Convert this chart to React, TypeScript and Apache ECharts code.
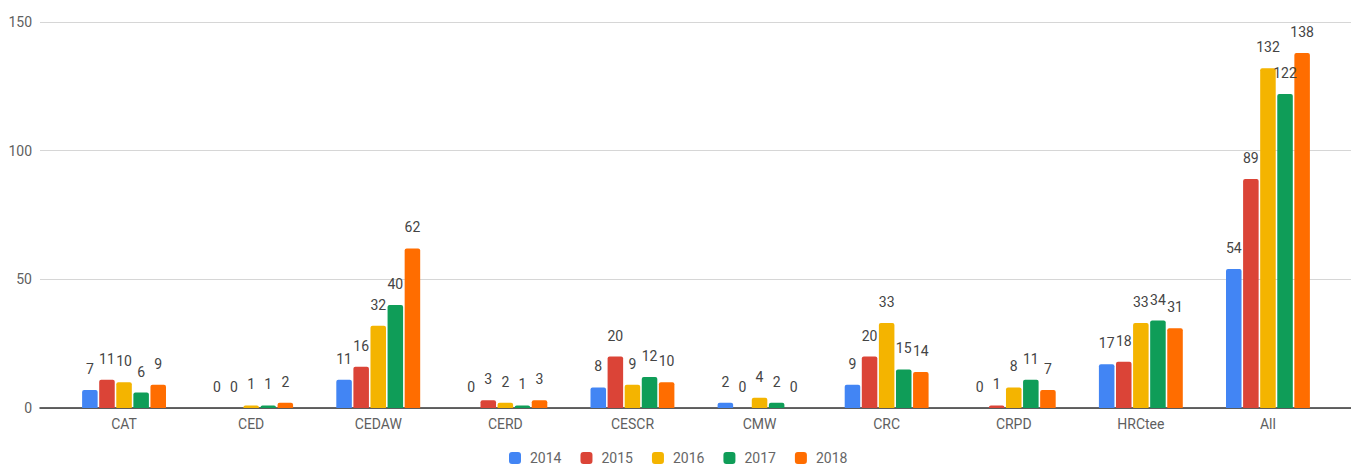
import React, { useEffect, useRef } from "react";
import * as echarts from "echarts";

const categories = ["CAT", "CED", "CEDAW", "CERD", "CESCR", "CMW", "CRC", "CRPD", "HRCtee", "All"];
const years = ["2014", "2015", "2016", "2017", "2018"];
const colors = ["#4285F4", "#DB4437", "#F4B400", "#0F9D58", "#FF6D00"];

const v2014 = [7, 0, 11, 0, 8, 2, 9, 0, 17, 54];
const v2015 = [11, 0, 16, 3, 20, 0, 20, 1, 18, 89];
const v2016 = [10, 1, 32, 2, 9, 4, 33, 8, 33, 132];
const v2017 = [6, 1, 40, 1, 12, 2, 15, 11, 34, 122];
const v2018 = [9, 2, 62, 3, 10, 0, 14, 7, 31, 138];
const seriesValues = [v2014, v2015, v2016, v2017, v2018];

const yTicks = { min: 0, max: 150, interval: 50 };

const FONT = "Roboto, 'Noto Sans', Arial, sans-serif";

export default function App() {
  const ref = useRef<HTMLDivElement>(null);

  useEffect(() => {
    if (!ref.current) return;
    const chart = echarts.init(ref.current, undefined, { renderer: "svg" });

    chart.setOption({
      animation: false,
      color: colors,
      textStyle: { fontFamily: FONT },
      legend: {
        top: 451,
        left: 509,
        padding: 0,
        itemWidth: 12,
        itemHeight: 12,
        itemGap: 19,
        icon: "roundRect",
        textStyle: { fontFamily: FONT, fontSize: 14, color: "#666", padding: [0, 0, 0, 4] },
        data: years,
      },
      grid: [
        // full-width frame carrying the value gridlines and baseline
        { left: 40, right: 0, top: 22, height: 386 },
        // inner area holding the bars
        { left: 60.5, right: 19.5, top: 22, height: 386 },
      ],
      xAxis: [
        {
          gridIndex: 0,
          type: "value",
          min: 0,
          max: 1,
          axisLine: { show: true, onZero: false, lineStyle: { color: "#333", width: 1.5 } },
          axisTick: { show: false },
          axisLabel: { show: false },
          splitLine: { show: false },
        },
        {
          gridIndex: 1,
          type: "category",
          data: categories,
          axisLine: { show: false },
          axisTick: { show: false },
          axisLabel: { margin: 9, fontSize: 14, color: "#5f5f5f", fontFamily: FONT },
        },
      ],
      yAxis: [
        {
          gridIndex: 0,
          type: "value",
          min: yTicks.min,
          max: yTicks.max,
          interval: yTicks.interval,
          axisLine: { show: false },
          axisTick: { show: false },
          axisLabel: { margin: 8, fontSize: 14, color: "#5f5f5f", fontFamily: FONT },
          splitLine: { lineStyle: { color: "#d6d6d6", width: 1 } },
        },
        {
          gridIndex: 1,
          type: "value",
          min: yTicks.min,
          max: yTicks.max,
          interval: yTicks.interval,
          show: false,
          splitLine: { show: false },
        },
      ],
      series: years.map((y, i) => ({
        name: y,
        type: "bar",
        xAxisIndex: 1,
        yAxisIndex: 1,
        data: seriesValues[i],
        barCategoryGap: "34%",
        barGap: "10%",
        itemStyle: { color: colors[i], borderRadius: [2, 2, 0, 0] },
        label: {
          show: true,
          position: "top",
          distance: 14,
          fontSize: 14,
          color: "#444",
          fontFamily: FONT,
        },
      })),
    });

    return () => chart.dispose();
  }, []);

  return (
    <div
      ref={ref}
      style={{ position: "fixed", left: 0, top: 0, width: 1351, height: 466, background: "#fff" }}
    />
  );
}
